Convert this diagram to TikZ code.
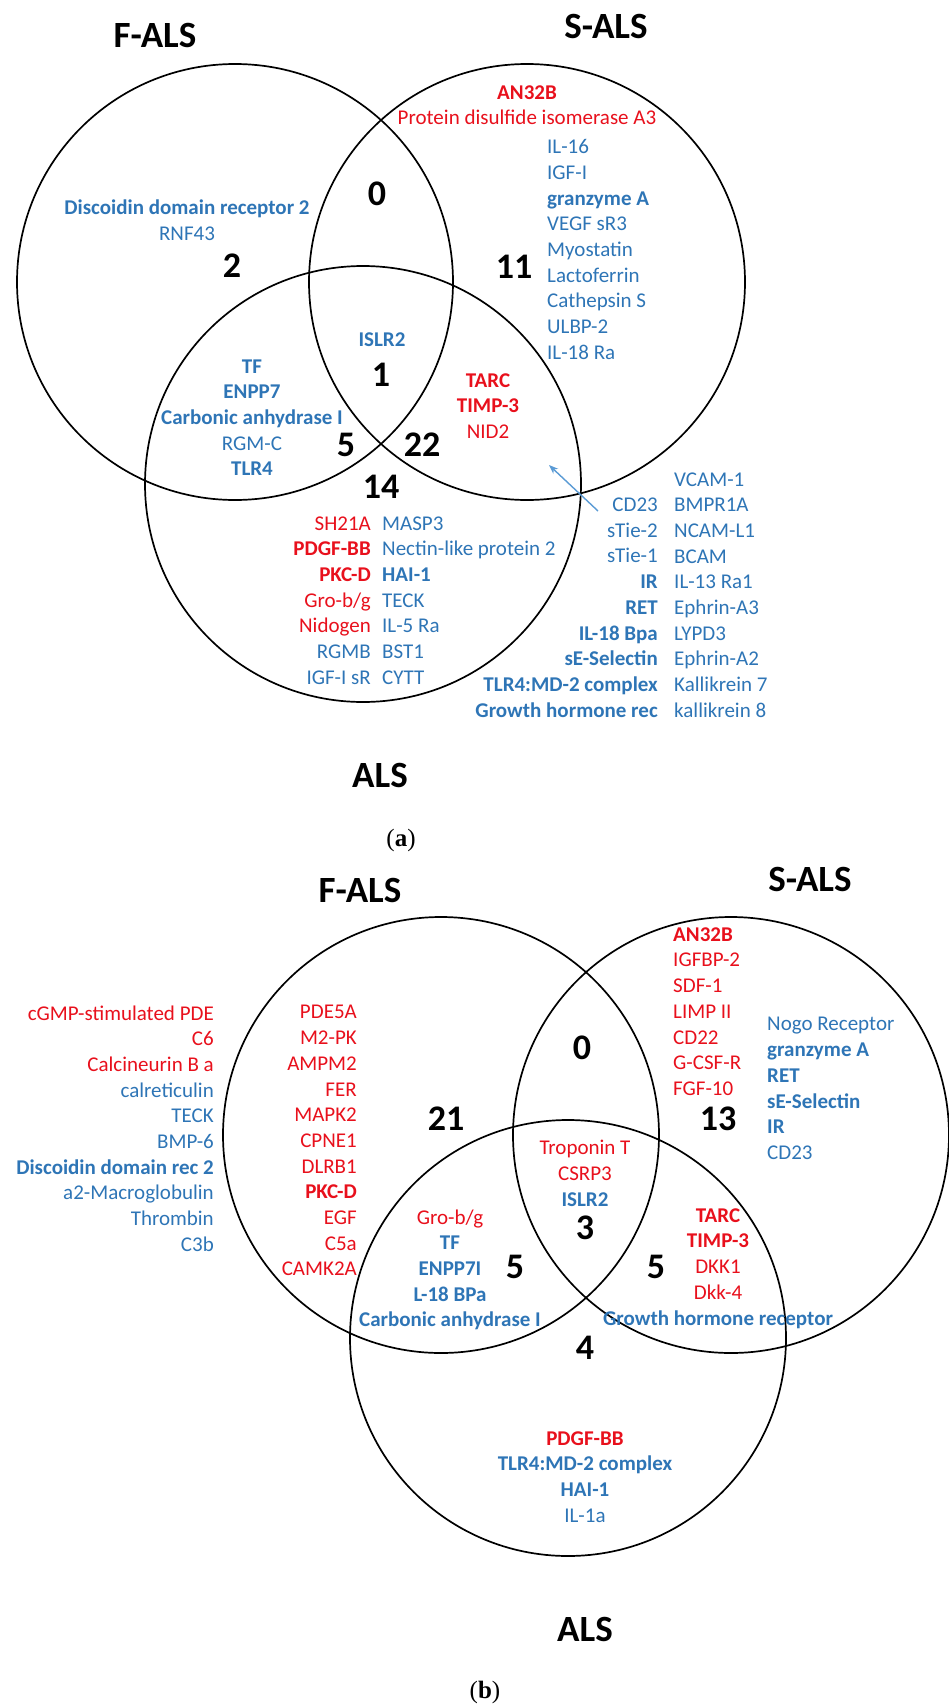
\documentclass[tikz,border=0pt]{standalone}
\usepackage{fontspec}
\setmainfont{Carlito}
\newfontfamily\capfont{Liberation Serif}
\usetikzlibrary{arrows.meta}
\definecolor{alsred}  {HTML}{E8101C}
\definecolor{alsblue} {HTML}{2E75B6}
\definecolor{arrblue} {HTML}{5B9BD5}
\newcommand{\redtx}[1]{\textcolor{alsred}{#1}}

\begin{document}
\begin{tikzpicture}[
  x=1pt, y=-1pt,
  ven/.style={draw=black, line width=1.7pt},
  ttl/.style={font=\fontsize{37}{44}\selectfont\bfseries, inner sep=0pt},
  num/.style={font=\fontsize{36}{43}\selectfont\bfseries, inner sep=0pt},
  lst/.style={font=\fontsize{21}{25.7}\selectfont, inner sep=0pt, text=alsblue},
  pnl/.style={font=\capfont\fontsize{25}{30}\selectfont, inner sep=0pt},
  >=Stealth, arr/.style={->, arrblue, line width=1.4pt}
]
\useasboundingbox (0,0) rectangle (948,1708);

% ---- panel (a)
\draw[ven] (235,282) circle[radius=218pt];
\draw[ven] (527,282) circle[radius=218pt];
\draw[ven] (363,484) circle[radius=218pt];

\node[ttl] (fals1) at (155,35) {F-ALS};
\node[ttl] (sals1) at (606,26) {S-ALS};
\node[ttl] (als1)  at (380,775) {ALS};

\node[num] (na0)  at (377,194) {0};
\node[num] (na2)  at (232,266) {2};
\node[num] (na11) at (514,267) {11};
\node[num] (na1)  at (381,375) {1};
\node[num] (na5)  at (346,445) {5};
\node[num] (na22) at (422,445) {22};
\node[num] (na14) at (381,487) {14};

\node[lst, anchor=north, align=center, text=alsred] (sa1) at (527,85.25)
  {\textbf{AN32B}\\ Protein disulfide isomerase A3};
\node[lst, anchor=north west, align=left] (sa2) at (547,139.25)
  {IL-16\\ IGF-I\\ \textbf{granzyme A}\\ VEGF sR3\\ Myostatin\\ Lactoferrin\\
   Cathepsin S\\ ULBP-2\\ IL-18 Ra};
\node[lst, anchor=north, align=center] (fa1) at (187,199.5)
  {\textbf{Discoidin domain receptor 2}\\ RNF43};
\node[lst, anchor=north] (ca1) at (382,332.25) {\textbf{ISLR2}};
\node[lst, anchor=north, align=center] (fxa) at (252,359.25)
  {\textbf{TF}\\ \textbf{ENPP7}\\ \textbf{Carbonic anhydrase I}\\ RGM-C\\ \textbf{TLR4}};
\node[lst, anchor=north, align=center, text=alsred] (sxa) at (488,373.25)
  {\textbf{TARC}\\ \textbf{TIMP-3}\\ NID2};
\node[lst, anchor=north east, align=right] (aa1) at (371,516.25)
  {\redtx{SH21A}\\ \redtx{\textbf{PDGF-BB}}\\ \redtx{\textbf{PKC-D}}\\ \redtx{Gro-b/g}\\
   \redtx{Nidogen}\\ RGMB\\ IGF-I sR};
\node[lst, anchor=north west, align=left] (aa2) at (382,516.25)
  {MASP3\\ Nectin-like protein 2\\ \textbf{HAI-1}\\ TECK\\ IL-5 Ra\\ BST1\\ CYTT};
\node[lst, anchor=north east, align=right] (oa1) at (658,497.75)
  {CD23\\ sTie-2\\ sTie-1\\ \textbf{IR}\\ \textbf{RET}\\ \textbf{IL-18 Bpa}\\
   \textbf{sE-Selectin}\\ \textbf{TLR4:MD-2 complex}\\ \textbf{Growth hormone rec}};
\node[lst, anchor=north west, align=left] (oa2) at (674,472.25)
  {VCAM-1\\ BMPR1A\\ NCAM-L1\\ BCAM\\ IL-13 Ra1\\ Ephrin-A3\\ LYPD3\\ Ephrin-A2\\
   Kallikrein 7\\ kallikrein 8};

\coordinate (cdtail) at (598,511);
\coordinate (cdtip)  at (549,465);
\draw[arr] (cdtail) -- (cdtip);

\node[pnl] (pa) at (401,840) {(\textbf{a})};

% ---- panel (b)
\draw[ven] (441,1135) circle[radius=218pt];
\draw[ven] (731,1135) circle[radius=218pt];
\draw[ven] (568,1338) circle[radius=218pt];

\node[ttl] (fals2) at (360,890) {F-ALS};
\node[ttl] (sals2) at (810,879) {S-ALS};
\node[ttl] (als2)  at (585,1629) {ALS};

\node[num] (nb21) at (446,1119) {21};
\node[num] (nb0)  at (582,1048) {0};
\node[num] (nb13) at (718,1119) {13};
\node[num] (nb3)  at (585,1228) {3};
\node[num] (nb5a) at (515,1267) {5};
\node[num] (nb5b) at (656,1267) {5};
\node[num] (nb4)  at (585,1348) {4};

\node[lst, anchor=north east, align=right] (fb1) at (214,1005.25)
  {\redtx{cGMP-stimulated PDE}\\ \redtx{C6}\\ \redtx{Calcineurin B a}\\ calreticulin\\
   TECK\\ BMP-6\\ \textbf{Discoidin domain rec 2}\\ a2-Macroglobulin\\ Thrombin\\ C3b};
\node[lst, anchor=north east, align=right, text=alsred] (fb2) at (357,1005.25)
  {PDE5A\\ M2-PK\\ AMPM2\\ FER\\ MAPK2\\ CPNE1\\ DLRB1\\ \textbf{PKC-D}\\ EGF\\ C5a\\ CAMK2A};
\node[lst, anchor=north west, align=left, text=alsred] (sb1) at (673,927.25)
  {\textbf{AN32B}\\ IGFBP-2\\ SDF-1\\ LIMP II\\ CD22\\ G-CSF-R\\ FGF-10};
\node[lst, anchor=north west, align=left] (sb2) at (767,1017.25)
  {Nogo Receptor\\ \textbf{granzyme A}\\ \textbf{RET}\\ \textbf{sE-Selectin}\\ \textbf{IR}\\ CD23};
\node[lst, anchor=north, align=center] (cb1) at (585,1140.25)
  {\redtx{Troponin T}\\ \redtx{CSRP3}\\ \textbf{ISLR2}};
\node[lst, anchor=north, align=center] (fxb) at (450,1209.25)
  {\redtx{Gro-b/g}\\ \textbf{TF}\\ \textbf{ENPP7I}\\ \textbf{L-18 BPa}\\ \textbf{Carbonic anhydrase I}};
\node[lst, anchor=north, align=center] (sxb) at (718,1208.25)
  {\redtx{\textbf{TARC}}\\ \redtx{\textbf{TIMP-3}}\\ \redtx{DKK1}\\ \redtx{Dkk-4}\\
   \textbf{Growth hormone receptor}};
\node[lst, anchor=north, align=center] (ab1) at (585,1431.25)
  {\redtx{\textbf{PDGF-BB}}\\ \textbf{TLR4:MD-2 complex}\\ \textbf{HAI-1}\\ IL-1a};

\node[pnl] (pb) at (485,1692) {(\textbf{b})};
\end{tikzpicture}
\end{document}
